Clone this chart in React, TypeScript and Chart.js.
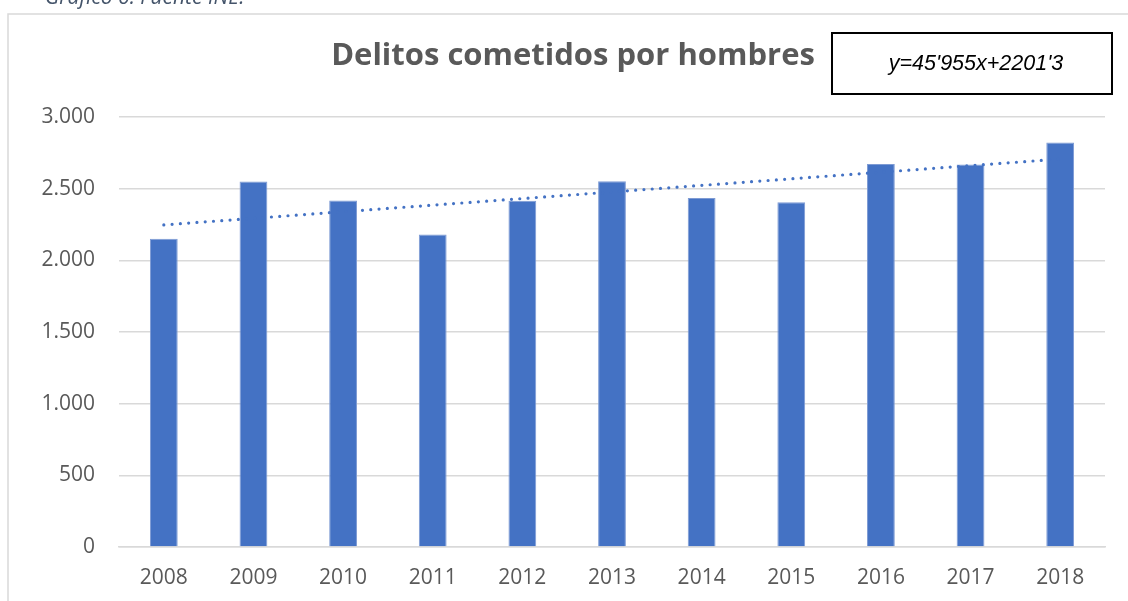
import React, { useEffect, useRef } from "react";
import { Chart, registerables } from "chart.js";

Chart.register(...registerables);

const years = ["2008", "2009", "2010", "2011", "2012", "2013", "2014", "2015", "2016", "2017", "2018"];
const delitosHombres = [2150, 2550, 2418, 2180, 2415, 2552, 2435, 2405, 2672, 2668, 2822];
const tendencia = [2247.3, 2293.2, 2339.2, 2385.1, 2431.1, 2477.0, 2523.0, 2568.9, 2614.9, 2660.9, 2706.8];
const yTicks = [0, 500, 1000, 1500, 2000, 2500, 3000];
const chartTitle = "Delitos cometidos por hombres";
const equationText = "y=45'955x+2201'3";
const captionText = "Gráfico 6. Fuente INE.";

const W = 1128;
const H = 601;

const fmt = (v: number) => {
  const s = Math.round(v).toString();
  return s.replace(/\B(?=(\d{3})+(?!\d))/g, ".");
};

const decorPlugin = {
  id: "decor",
  beforeDraw(chart: any) {
    const ctx = chart.ctx;
    ctx.save();
    ctx.fillStyle = "#ffffff";
    ctx.fillRect(0, 0, W, H);
    ctx.strokeStyle = "#d9d9d9";
    ctx.lineWidth = 1.5;
    ctx.beginPath();
    ctx.moveTo(8, H + 5);
    ctx.lineTo(8, 14);
    ctx.lineTo(W + 5, 14);
    ctx.stroke();
    ctx.restore();
  },
  afterDraw(chart: any) {
    const ctx = chart.ctx;
    ctx.save();
    // caption
    ctx.fillStyle = "#44546a";
    ctx.font = 'italic 21px "Open Sans"';
    ctx.textAlign = "left";
    ctx.textBaseline = "alphabetic";
    ctx.fillText(captionText, 45, 4);
    // title
    ctx.fillStyle = "#595959";
    ctx.font = 'bold 31px "Open Sans"';
    ctx.textAlign = "center";
    ctx.fillText(chartTitle, 573, 65);
    // equation box
    ctx.fillStyle = "#ffffff";
    ctx.fillRect(832, 33, 280, 61);
    ctx.strokeStyle = "#000000";
    ctx.lineWidth = 2;
    ctx.strokeRect(832, 33, 280, 61);
    ctx.fillStyle = "#000000";
    ctx.font = 'italic 21.5px "Liberation Sans"';
    ctx.textAlign = "center";
    ctx.fillText(equationText, 976, 70);
    ctx.restore();
  },
};

export default function App() {
  const ref = useRef<HTMLCanvasElement | null>(null);
  useEffect(() => {
    if (!ref.current) return;
    const chart = new Chart(ref.current, {
      type: "bar",
      data: {
        labels: years,
        datasets: [
          {
            type: "line",
            label: "Tendencia",
            data: tendencia,
            borderColor: "#4472c4",
            borderWidth: 3.2,
            borderDash: [0, 8.3],
            borderCapStyle: "round",
            pointRadius: 0,
            fill: false,
            tension: 0,
            order: 0,
          } as any,
          {
            type: "bar",
            label: "Delitos",
            data: delitosHombres,
            backgroundColor: "#4472c4",
            borderColor: "#7e9bd4",
            borderWidth: 1,
            barPercentage: 0.62,
            categoryPercentage: 0.5,
            order: 1,
          } as any,
        ],
      },
      options: {
        responsive: false,
        animation: false,
        layout: { padding: { left: 0, right: 23, top: 117, bottom: 0 } },
        plugins: {
          legend: { display: false },
          title: { display: false },
          tooltip: { enabled: false },
        },
        scales: {
          x: {
            grid: { display: false, drawTicks: false },
            border: { display: true, color: "#d9d9d9", width: 1.5 },
            ticks: {
              color: "#595959",
              font: { family: '"Open Sans"', size: 21 },
              padding: 18,
              maxRotation: 0,
            },
            afterFit(scale: any) {
              scale.height = H - 547;
            },
          },
          y: {
            min: 0,
            max: 3000,
            afterBuildTicks(scale: any) {
              scale.ticks = yTicks.map((v) => ({ value: v }));
            },
            grid: { color: "#d9d9d9", lineWidth: 1.5, drawTicks: false },
            border: { display: false },
            ticks: {
              color: "#595959",
              font: { family: '"Open Sans"', size: 21 },
              padding: 24,
              callback: (v: any) => fmt(Number(v)),
            },
            afterFit(scale: any) {
              scale.width = 119;
            },
          },
        },
      },
      plugins: [decorPlugin],
    });
    return () => chart.destroy();
  }, []);
  return (
    <div style={{ position: "fixed", left: 0, top: 0, width: W, height: H, background: "#fff" }}>
      <canvas ref={ref} width={W} height={H} style={{ width: W, height: H, display: "block" }} />
    </div>
  );
}
